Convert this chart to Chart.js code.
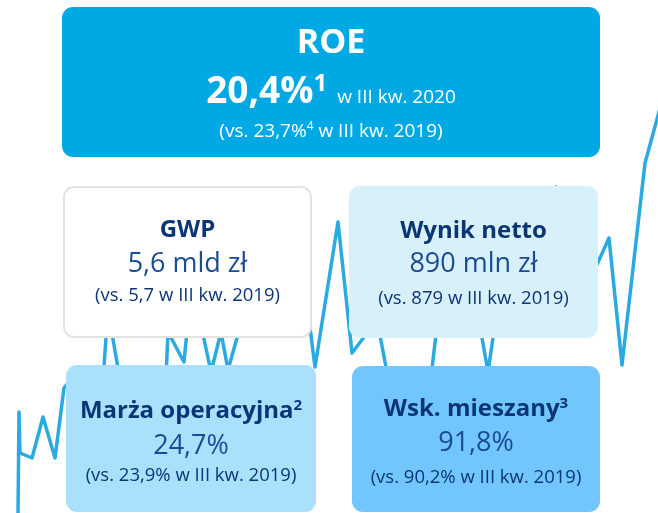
<!DOCTYPE html>
<html lang="pl">
<head>
<meta charset="utf-8">
<script src="https://cdn.jsdelivr.net/npm/chart.js@4.4.1/dist/chart.umd.min.js"></script>
<style>
html, body { margin: 0; padding: 0; background: #fff; }
body { width: 658px; height: 513px; position: relative; overflow: hidden; font-family: "Open Sans", "Noto Sans", sans-serif; }
#bg { position: absolute; left: 0; top: 0; }
.box { position: absolute; border-radius: 11px; box-sizing: border-box; }
.t { position: absolute; left: 0; right: 0; text-align: center; line-height: 1; white-space: nowrap; }
.navy { color: #0c3576; }
.blue { color: #1a4b93; }
.h { font-size: 24px; font-weight: 700; }
.v { font-size: 27px; }
.s { font-size: 18.5px; }
</style>
</head>
<body>
<canvas id="bg" width="658" height="513"></canvas>

<div class="box" style="left:62px;top:7px;width:538px;height:150px;background:#00a9e4;color:#fff;">
  <div class="t" style="top:16px;font-size:34px;font-weight:700;">ROE</div>
  <div class="t" style="top:63px;font-size:37px;font-weight:700;">20,4%<span style="font-size:24px;position:relative;top:-12px;">1</span><span style="font-size:19px;font-weight:400;"> &nbsp;w III kw. 2020</span></div>
  <div class="t" style="top:114px;font-size:19px;">(vs. 23,7%<span style="font-size:12px;position:relative;top:-7px;">4</span> w III kw. 2019)</div>
</div>

<div class="box" style="left:63px;top:186px;width:249px;height:152px;background:#fff;border:2px solid #e3e3e3;">
  <div class="t navy h" style="top:28px;">GWP</div>
  <div class="t blue v" style="top:60px;">5,6 mld zł</div>
  <div class="t navy s" style="top:97px;">(vs. 5,7 w III kw. 2019)</div>
</div>

<div class="box" style="left:349px;top:186px;width:249px;height:152px;background:#d8f0fa;">
  <div class="t navy h" style="top:31px;">Wynik netto</div>
  <div class="t blue v" style="top:62px;">890 mln zł</div>
  <div class="t navy s" style="top:102px;">(vs. 879 w III kw. 2019)</div>
</div>

<div class="box" style="left:66px;top:365px;width:250px;height:147px;background:#a9e1fd;">
  <div class="t navy h" style="top:32px;">Marża operacyjna<span style="font-size:15px;position:relative;top:-8px;">2</span></div>
  <div class="t blue v" style="top:65px;">24,7%</div>
  <div class="t navy s" style="top:100px;">(vs. 23,9% w III kw. 2019)</div>
</div>

<div class="box" style="left:352px;top:366px;width:248px;height:146px;background:#71c6fe;">
  <div class="t navy h" style="top:29px;">Wsk. mieszany<span style="font-size:15px;position:relative;top:-8px;">3</span></div>
  <div class="t blue v" style="top:61px;">91,8%</div>
  <div class="t navy s" style="top:101px;">(vs. 90,2% w III kw. 2019)</div>
</div>

<script>
// linia w tle (x: pozycja, y: wartość od dołu)
const dayIndex = [18, 19, 20, 32, 43, 55, 64, 72, 84, 96, 103, 108, 120, 135, 150, 162, 165, 168, 184, 190, 200,
  211, 221, 228, 242, 255, 268, 280, 292, 309, 315, 338, 352, 377, 387, 400, 412, 426, 440, 455, 468, 478,
  488, 497, 510, 522, 535, 546, 556, 566, 578, 590, 609, 622, 645, 670];
const lineValues = [0, 101, 60, 55, 96, 55, 125, 135, 83, 113, 133, 203, 133, 103, 123, 93, 113, 181, 151, 213, 193,
  141, 181, 143, 193, 253, 213, 283, 223, 193, 146, 291, 160, 193, 141, 93, 123, 93, 213, 263, 223, 198,
  141, 203, 243, 213, 283, 263, 326, 293, 308, 233, 275, 148, 350, 441];

const points = dayIndex.map((d, i) => ({ x: d, y: lineValues[i] }));

new Chart(document.getElementById('bg').getContext('2d'), {
    type: 'line',
    data: {
        datasets: [{
            data: points,
            borderColor: '#2aaae0',
            borderWidth: 3.5,
            borderJoinStyle: 'round',
            borderCapStyle: 'round',
            pointRadius: 0,
            tension: 0,
            fill: false
        }]
    },
    options: {
        responsive: false,
        animation: false,
        layout: { padding: 0 },
        plugins: { legend: { display: false }, tooltip: { enabled: false } },
        scales: {
            x: { type: 'linear', min: 0, max: 658, display: false },
            y: { min: 0, max: 513, display: false }
        }
    }
});
</script>
</body>
</html>
